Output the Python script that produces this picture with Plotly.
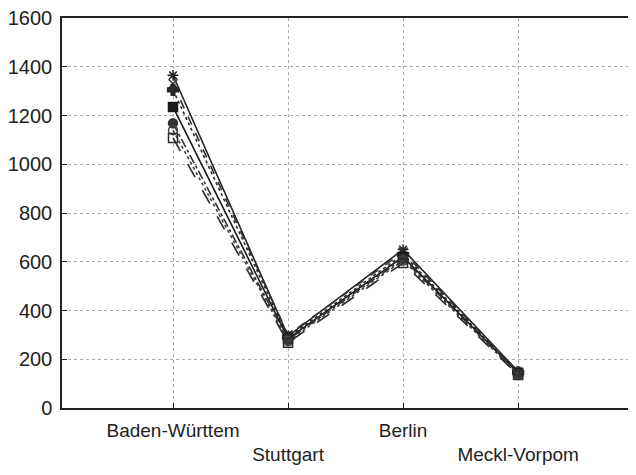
import plotly.graph_objects as go

regions = ["Baden-Württem", "Stuttgart", "Berlin", "Meckl-Vorpom"]

series_a = [1365, 295, 650, 150]
series_b = [1330, 300, 640, 148]
series_c = [1305, 290, 630, 145]
series_d = [1235, 285, 620, 143]
series_e = [1168, 280, 612, 140]
series_f = [1140, 275, 605, 138]
series_g = [1108, 268, 595, 135]

yticks = [0, 200, 400, 600, 800, 1000, 1200, 1400, 1600]

all_series = [series_a, series_b, series_c, series_d, series_e, series_f, series_g]
markers = ["asterisk-open", "x-thin-open", "cross", "square", "circle", "circle-open", "square-open"]
dashes = ["solid", "dash", "dot", "solid", "dashdot", "dot", "longdash"]
colors = ["#222", "#333", "#2a2a2a", "#1a1a1a", "#333", "#444", "#2b2b2b"]

# alternate the category labels up and down like the original
ticktext = [r if i % 2 == 0 else "<br>" + r for i, r in enumerate(regions)]

fig = go.Figure()
for vals, m, d, c in zip(all_series, markers, dashes, colors):
    fig.add_trace(go.Scatter(x=list(range(len(regions))), y=vals,
                             mode="lines+markers",
                             line=dict(color=c, width=1.6, dash=d),
                             marker=dict(symbol=m, size=9, color=c,
                                         line=dict(color=c, width=1.5)),
                             showlegend=False))

# page body has an 8px margin, so the plot box is offset accordingly
fig.update_layout(
    width=636, height=475,
    margin=dict(l=54, r=12, t=10, b=75),
    paper_bgcolor="white", plot_bgcolor="white",
    font=dict(family="Liberation Sans, Arial", size=19, color="#222"),
    xaxis=dict(range=[-0.965, 3.99], tickvals=list(range(len(regions))),
               ticktext=ticktext, showgrid=True, gridcolor="#aaa",
               griddash="dot", gridwidth=1, zeroline=False, automargin=False,
               showline=True, linecolor="#222", linewidth=1.5, mirror=True,
               ticks="inside", ticklen=5, tickcolor="#222",
               ticklabelstandoff=4, tickfont=dict(size=19)),
    yaxis=dict(range=[0, 1600], tickvals=yticks, showgrid=True,
               gridcolor="#aaa", griddash="dot", gridwidth=1, zeroline=False,
               automargin=False, showline=True, linecolor="#222",
               linewidth=1.5, mirror=True, ticks="inside", ticklen=5,
               tickcolor="#222", ticklabelstandoff=4,
               ticklabeloverflow="allow", tickfont=dict(size=20)),
)

fig.write_html("out.html")
